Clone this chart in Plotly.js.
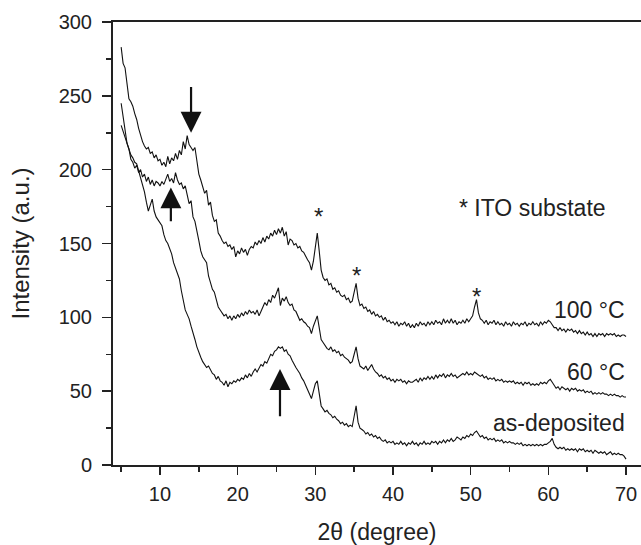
<!DOCTYPE html>
<html>
<head>
<meta charset="utf-8">
<script src="https://cdn.plot.ly/plotly-3.0.1.min.js"></script>
<style>html,body{margin:0;padding:0;background:#fff;overflow:hidden}#chart{width:641px;height:545px}</style>
</head>
<body>
<div id="chart"></div>
<script>
// 2θ sampling of the patterns (degrees)
const ANGLE_START = 5;
const ANGLE_STEP = 0.25;

// Intensity (a.u.), 5.00° ... 70.00° in 0.25° steps
const intensity100C = [
  283,272,269,258,248,246,243,238,234,228,223,219,216,214,215,211,212,208,210,206,
  207,203,205,202,209,204,208,206,211,207,213,210,219,214,223,217,215,213,215,204,
  197,193,188,184,186,176,178,169,165,166,157,155,152,150,151,148,149,146,148,141,
  145,143,147,144,146,142,146,148,147,151,149,152,150,154,151,155,153,157,155,159,
  156,160,157,161,155,158,149,153,152,149,150,147,148,145,144,141,139,137,132,138,
  148,157,145,132,127,125,126,122,123,119,120,117,118,115,114,115,112,113,110,111,
  117,123,113,108,109,106,107,104,105,102,104,101,102,100,101,98,100,97,98,96,
  97,95,97,94,96,95,97,94,96,93,95,93,96,94,97,95,96,94,97,95,
  97,95,98,96,97,95,99,96,98,96,99,96,98,95,97,96,98,96,99,97,
  99,101,107,112,103,99,98,96,98,95,97,96,98,95,97,95,96,94,97,95,
  96,94,97,95,96,94,96,95,97,94,96,95,97,95,96,94,97,95,97,96,
  98,97,95,93,93,91,93,91,92,90,92,91,92,90,91,89,91,89,90,88,
  90,88,89,87,89,87,89,88,89,87,89,88,89,88,89,87,88,87,88,88,
  87
];
const intensity60C = [
  245,237,229,218,214,207,205,201,203,198,200,195,197,192,195,190,193,189,192,191,
  189,192,190,193,197,192,194,191,198,193,190,191,187,189,183,177,179,168,165,157,
  152,145,141,139,137,128,123,119,117,111,107,105,103,101,102,99,101,98,101,99,
  102,100,103,101,104,102,105,103,104,102,105,101,104,107,110,108,112,110,115,113,
  116,120,108,113,111,114,110,108,109,105,104,101,98,99,97,96,94,93,89,94,
  98,101,93,85,83,81,79,78,80,77,78,76,77,74,75,73,72,71,69,70,
  75,80,72,67,66,65,67,64,66,68,65,63,62,60,61,59,60,58,59,57,
  58,56,58,57,58,56,57,55,57,56,56,57,58,56,59,57,59,58,60,58,
  60,58,61,59,61,60,62,59,61,60,62,60,61,59,60,61,62,61,63,61,
  62,61,63,62,61,60,61,59,60,58,59,58,59,57,58,57,58,56,57,56,
  57,56,57,55,56,55,56,54,56,55,56,54,55,54,55,54,56,55,56,55,
  57,58,56,54,52,53,51,53,52,51,52,50,52,51,52,50,51,50,51,49,
  50,49,50,48,49,48,49,48,49,48,48,47,48,47,48,47,47,46,47,46,
  46
];
const intensityAsDeposited = [
  230,226,222,219,214,210,208,205,204,199,196,190,185,178,172,176,180,172,168,166,
  164,162,156,152,150,146,143,137,133,129,126,118,112,105,102,99,94,90,85,80,
  76,73,70,68,66,67,64,62,61,58,60,57,56,54,57,53,56,55,57,56,
  58,57,59,58,61,59,62,60,63,65,63,66,68,67,70,69,72,75,74,77,
  78,80,79,80,77,78,75,74,71,68,66,64,62,59,57,54,51,49,45,50,
  55,57,49,40,38,36,37,35,34,32,33,31,30,28,29,27,28,26,27,26,
  33,40,29,25,24,23,21,22,20,21,19,20,18,19,17,16,17,15,16,15,
  16,14,15,14,16,14,15,13,15,14,16,14,15,13,15,14,16,14,15,14,
  16,15,16,14,16,15,17,15,17,16,18,16,17,19,18,17,19,18,20,19,
  21,20,22,23,21,19,20,18,19,17,18,17,18,16,17,16,17,15,16,15,
  16,15,15,14,15,14,15,13,14,13,14,13,14,13,14,13,14,13,14,14,
  15,16,18,14,12,11,12,11,12,10,11,10,11,10,11,9,11,10,11,9,
  10,9,10,8,10,9,8,9,8,9,7,8,9,7,8,7,8,7,7,6,
  4
];

// Curve labels
const curveLabels = ["100 °C", "60 °C", "as-deposited"];
const curveLabelY = [105, 63, 28.5];
const legendNote = "* ITO substate";

// ITO substrate reflections marked with an asterisk [2θ, intensity]
const itoStarAngles = [30.4, 35.3, 50.8];
const itoStarY = [168, 128, 114];

// Arrows: tip [2θ, intensity] and tail intensity
const arrowAngles = [14.0, 11.4, 25.45];
const arrowTipY = [225, 188, 65];
const arrowTailY = [257, 164, 32];

const FONT = "Liberation Sans, Arial, Helvetica, sans-serif";
const INK = "#222";

const mk = (y) => ({
  type: "scatter", mode: "lines", x0: ANGLE_START, dx: ANGLE_STEP, y: y,
  line: {color: "#111", width: 1.1}, hoverinfo: "skip", showlegend: false
});

const annotations = [];
curveLabels.forEach((t, i) => annotations.push({
  x: 70.1, y: curveLabelY[i], xref: "x", yref: "y", text: t, showarrow: false,
  xanchor: "right", yanchor: "middle", font: {family: FONT, size: 23, color: INK}
}));
annotations.push({
  x: 48.2, y: 174, xref: "x", yref: "y", text: legendNote, showarrow: false,
  xanchor: "left", yanchor: "middle", font: {family: FONT, size: 23, color: INK}
});
itoStarAngles.forEach((a, i) => annotations.push({
  x: a, y: itoStarY[i], xref: "x", yref: "y", text: "*", showarrow: false,
  xanchor: "center", yanchor: "middle", font: {family: FONT, size: 24, color: INK}
}));
arrowAngles.forEach((a, i) => annotations.push({
  x: a, y: arrowTipY[i], ax: a, ay: arrowTailY[i], xref: "x", yref: "y",
  axref: "x", ayref: "y", text: "", showarrow: true, arrowhead: 2,
  arrowsize: 1.9, arrowwidth: 2.2, arrowcolor: "#111"
}));

const layout = {
  width: 641, height: 545,
  margin: {l: 113, r: 0, t: 22, b: 80, pad: 0},
  paper_bgcolor: "#fff", plot_bgcolor: "#fff",
  font: {family: FONT, color: INK},
  xaxis: {
    range: [3.95, 71.93], tick0: 0, dtick: 10, ticks: "outside", ticklen: 8,
    tickwidth: 1.5, tickcolor: "#222",
    minor: {dtick: 5, tick0: 0, ticks: "outside", ticklen: 5, tickwidth: 1.5, tickcolor: "#222"},
    showline: true, linewidth: 2, linecolor: "#222", mirror: true,
    showgrid: false, zeroline: false, ticklabelstandoff: 2,
    tickfont: {family: FONT, size: 20, color: INK},
    title: {text: "2θ (degree)", font: {family: FONT, size: 23, color: INK}, standoff: 22}
  },
  yaxis: {
    range: [0, 300], tick0: 0, dtick: 50, ticks: "outside", ticklen: 9,
    tickwidth: 1.5, tickcolor: "#222",
    minor: {dtick: 25, tick0: 0, ticks: "outside", ticklen: 5, tickwidth: 1.5, tickcolor: "#222"},
    showline: true, linewidth: 2, linecolor: "#222", mirror: false,
    showgrid: false, zeroline: false, ticklabelstandoff: 6,
    tickfont: {family: FONT, size: 20, color: INK},
    title: {text: "Intensity (a.u.)", font: {family: FONT, size: 24, color: INK}, standoff: 22}
  },
  annotations: annotations
};

Plotly.newPlot("chart", [mk(intensity100C), mk(intensity60C), mk(intensityAsDeposited)], layout, {staticPlot: true, displayModeBar: false});
</script>
</body>
</html>
